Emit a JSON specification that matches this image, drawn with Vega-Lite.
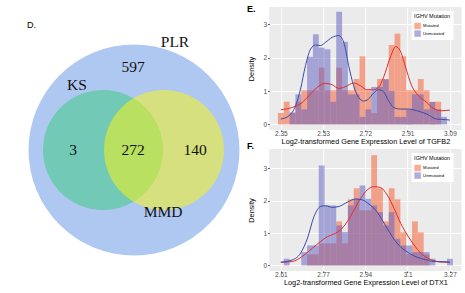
{
  "$schema": "https://vega.github.io/schema/vega-lite/v6.json",
  "background": "white",
  "padding": {"left": 0, "top": 5, "right": 0, "bottom": 0},
  "config": {
    "view": {"stroke": null},
    "font": "Liberation Sans",
    "axis": {"domain": false, "gridColor": "white", "tickColor": "#333333", "labelColor": "#4d4d4d", "labelFont": "Liberation Sans", "titleFont": "Liberation Sans", "titleFontWeight": "normal", "titleColor": "#000000", "labelFontSize": 6.5, "titleFontSize": 7.3, "tickSize": 1.5, "labelPadding": 1},
    "legend": {"orient": "none", "legendX": 142.4, "legendY": 4, "fillColor": "white", "padding": 2.5, "titleFontSize": 5.5, "titleFontWeight": "normal", "titleColor": "#000000", "titlePadding": 3.5, "labelFontSize": 4.3, "labelColor": "#000000", "symbolType": "square", "symbolSize": 42, "symbolStrokeWidth": 0, "symbolOpacity": 0.5, "rowPadding": 0.6, "labelOffset": 2}
  },
  "datasets": {
    "venn": [
      {"set": "PLR", "cx": 0, "cy": 0},
      {"set": "KS", "cx": -31, "cy": 0},
      {"set": "MMD", "cx": 30, "cy": 0}
    ],
    "vennLabels": [
      {"label": "PLR", "lx": 41, "ly": 108},
      {"label": "597", "lx": -1, "ly": 83},
      {"label": "KS", "lx": -57, "ly": 65},
      {"label": "3", "lx": -61, "ly": 0},
      {"label": "272", "lx": -1, "ly": 0},
      {"label": "140", "lx": 61, "ly": 0},
      {"label": "MMD", "lx": 29, "ly": -62}
    ],
    "histE": [
      {"lo": 2.3372, "hi": 2.3628, "group": "Mutated", "density": 0.34},
      {"lo": 2.3628, "hi": 2.3883, "group": "Mutated", "density": 0.68},
      {"lo": 2.3883, "hi": 2.4138, "group": "Mutated", "density": 0.34},
      {"lo": 2.4138, "hi": 2.4393, "group": "Mutated", "density": 0.68},
      {"lo": 2.4393, "hi": 2.4648, "group": "Mutated", "density": 1.02},
      {"lo": 2.4648, "hi": 2.4903, "group": "Mutated", "density": 1.02},
      {"lo": 2.4903, "hi": 2.5159, "group": "Mutated", "density": 1.02},
      {"lo": 2.5159, "hi": 2.5414, "group": "Mutated", "density": 1.7},
      {"lo": 2.5414, "hi": 2.5669, "group": "Mutated", "density": 1.02},
      {"lo": 2.5669, "hi": 2.5924, "group": "Mutated", "density": 1.02},
      {"lo": 2.5924, "hi": 2.6179, "group": "Mutated", "density": 1.7},
      {"lo": 2.6179, "hi": 2.6434, "group": "Mutated", "density": 1.02},
      {"lo": 2.6434, "hi": 2.6690, "group": "Mutated", "density": 1.02},
      {"lo": 2.6690, "hi": 2.6945, "group": "Mutated", "density": 1.36},
      {"lo": 2.6945, "hi": 2.7200, "group": "Mutated", "density": 2.04},
      {"lo": 2.7200, "hi": 2.7455, "group": "Mutated", "density": 1.02},
      {"lo": 2.7455, "hi": 2.7710, "group": "Mutated", "density": 0.34},
      {"lo": 2.7710, "hi": 2.7965, "group": "Mutated", "density": 1.36},
      {"lo": 2.7965, "hi": 2.8221, "group": "Mutated", "density": 1.36},
      {"lo": 2.8221, "hi": 2.8476, "group": "Mutated", "density": 2.38},
      {"lo": 2.8476, "hi": 2.8731, "group": "Mutated", "density": 2.72},
      {"lo": 2.8731, "hi": 2.8986, "group": "Mutated", "density": 2.04},
      {"lo": 2.8986, "hi": 2.9241, "group": "Mutated", "density": 1.02},
      {"lo": 2.9241, "hi": 2.9496, "group": "Mutated", "density": 1.02},
      {"lo": 2.9496, "hi": 2.9752, "group": "Mutated", "density": 1.36},
      {"lo": 2.9752, "hi": 3.0007, "group": "Mutated", "density": 1.02},
      {"lo": 3.0007, "hi": 3.0262, "group": "Mutated", "density": 0.68},
      {"lo": 3.0262, "hi": 3.0517, "group": "Mutated", "density": 0.68},
      {"lo": 2.3883, "hi": 2.4138, "group": "Unmutated", "density": 0.36},
      {"lo": 2.4138, "hi": 2.4393, "group": "Unmutated", "density": 0.9},
      {"lo": 2.4393, "hi": 2.4648, "group": "Unmutated", "density": 0.45},
      {"lo": 2.4648, "hi": 2.4903, "group": "Unmutated", "density": 2.025},
      {"lo": 2.4903, "hi": 2.5159, "group": "Unmutated", "density": 2.7},
      {"lo": 2.5159, "hi": 2.5414, "group": "Unmutated", "density": 2.3},
      {"lo": 2.5414, "hi": 2.5669, "group": "Unmutated", "density": 2.25},
      {"lo": 2.5669, "hi": 2.5924, "group": "Unmutated", "density": 0.675},
      {"lo": 2.5924, "hi": 2.6179, "group": "Unmutated", "density": 3.375},
      {"lo": 2.6179, "hi": 2.6434, "group": "Unmutated", "density": 2.475},
      {"lo": 2.6434, "hi": 2.6690, "group": "Unmutated", "density": 0.9},
      {"lo": 2.6690, "hi": 2.6945, "group": "Unmutated", "density": 0.9},
      {"lo": 2.6945, "hi": 2.7200, "group": "Unmutated", "density": 0.225},
      {"lo": 2.7200, "hi": 2.7455, "group": "Unmutated", "density": 0.45},
      {"lo": 2.7455, "hi": 2.7710, "group": "Unmutated", "density": 1.125},
      {"lo": 2.7710, "hi": 2.7965, "group": "Unmutated", "density": 1.125},
      {"lo": 2.7965, "hi": 2.8221, "group": "Unmutated", "density": 1.35},
      {"lo": 2.8221, "hi": 2.8476, "group": "Unmutated", "density": 1.0},
      {"lo": 2.8476, "hi": 2.8731, "group": "Unmutated", "density": 0.225},
      {"lo": 2.8731, "hi": 2.8986, "group": "Unmutated", "density": 0.225},
      {"lo": 2.8986, "hi": 2.9241, "group": "Unmutated", "density": 0.45},
      {"lo": 2.9241, "hi": 2.9496, "group": "Unmutated", "density": 0.9},
      {"lo": 2.9496, "hi": 2.9752, "group": "Unmutated", "density": 0.9},
      {"lo": 2.9752, "hi": 3.0007, "group": "Unmutated", "density": 0.45},
      {"lo": 3.0007, "hi": 3.0262, "group": "Unmutated", "density": 0.675},
      {"lo": 3.0262, "hi": 3.0517, "group": "Unmutated", "density": 0.45},
      {"lo": 3.0517, "hi": 3.0772, "group": "Unmutated", "density": 0.225}
    ],
    "densE": [
      {"x": 2.350, "group": "Mutated", "density": 0.44},
      {"x": 2.4007, "group": "Mutated", "density": 0.51},
      {"x": 2.444, "group": "Mutated", "density": 0.66},
      {"x": 2.4726, "group": "Mutated", "density": 0.86},
      {"x": 2.509, "group": "Mutated", "density": 1.11},
      {"x": 2.5454, "group": "Mutated", "density": 1.23},
      {"x": 2.574, "group": "Mutated", "density": 1.19},
      {"x": 2.6035, "group": "Mutated", "density": 1.08},
      {"x": 2.6321, "group": "Mutated", "density": 1.13},
      {"x": 2.6685, "group": "Mutated", "density": 1.24},
      {"x": 2.6981, "group": "Mutated", "density": 1.16},
      {"x": 2.7266, "group": "Mutated", "density": 1.04},
      {"x": 2.7562, "group": "Mutated", "density": 1.04},
      {"x": 2.7778, "group": "Mutated", "density": 1.11},
      {"x": 2.7995, "group": "Mutated", "density": 1.41},
      {"x": 2.829, "group": "Mutated", "density": 2.01},
      {"x": 2.8527, "group": "Mutated", "density": 2.33},
      {"x": 2.8724, "group": "Mutated", "density": 2.21},
      {"x": 2.894, "group": "Mutated", "density": 1.76},
      {"x": 2.9226, "group": "Mutated", "density": 1.16},
      {"x": 2.9521, "group": "Mutated", "density": 0.86},
      {"x": 2.9886, "group": "Mutated", "density": 0.66},
      {"x": 3.0171, "group": "Mutated", "density": 0.48},
      {"x": 3.0536, "group": "Mutated", "density": 0.41},
      {"x": 3.090, "group": "Mutated", "density": 0.43},
      {"x": 2.350, "group": "Unmutated", "density": 0.16},
      {"x": 2.3859, "group": "Unmutated", "density": 0.26},
      {"x": 2.4145, "group": "Unmutated", "density": 0.56},
      {"x": 2.4361, "group": "Unmutated", "density": 1.06},
      {"x": 2.4578, "group": "Unmutated", "density": 1.76},
      {"x": 2.4804, "group": "Unmutated", "density": 2.26},
      {"x": 2.5021, "group": "Unmutated", "density": 2.38},
      {"x": 2.5238, "group": "Unmutated", "density": 2.36},
      {"x": 2.5454, "group": "Unmutated", "density": 2.46},
      {"x": 2.575, "group": "Unmutated", "density": 2.61},
      {"x": 2.6035, "group": "Unmutated", "density": 2.66},
      {"x": 2.6252, "group": "Unmutated", "density": 2.46},
      {"x": 2.6469, "group": "Unmutated", "density": 1.76},
      {"x": 2.6685, "group": "Unmutated", "density": 1.16},
      {"x": 2.6902, "group": "Unmutated", "density": 0.81},
      {"x": 2.7119, "group": "Unmutated", "density": 0.70},
      {"x": 2.7335, "group": "Unmutated", "density": 0.76},
      {"x": 2.7562, "group": "Unmutated", "density": 0.94},
      {"x": 2.7778, "group": "Unmutated", "density": 1.04},
      {"x": 2.7995, "group": "Unmutated", "density": 0.98},
      {"x": 2.8212, "group": "Unmutated", "density": 0.71},
      {"x": 2.8428, "group": "Unmutated", "density": 0.51},
      {"x": 2.8724, "group": "Unmutated", "density": 0.46},
      {"x": 2.9088, "group": "Unmutated", "density": 0.46},
      {"x": 2.9452, "group": "Unmutated", "density": 0.41},
      {"x": 2.9886, "group": "Unmutated", "density": 0.31},
      {"x": 3.0319, "group": "Unmutated", "density": 0.16},
      {"x": 3.0755, "group": "Unmutated", "density": 0.14},
      {"x": 3.090, "group": "Unmutated", "density": 0.13}
    ],
    "histF": [
      {"lo": 2.7124, "hi": 2.7352, "group": "Mutated", "density": 0.34},
      {"lo": 2.7352, "hi": 2.7579, "group": "Mutated", "density": 0.34},
      {"lo": 2.7579, "hi": 2.7807, "group": "Mutated", "density": 0.68},
      {"lo": 2.7807, "hi": 2.8035, "group": "Mutated", "density": 0.68},
      {"lo": 2.8035, "hi": 2.8262, "group": "Mutated", "density": 0.68},
      {"lo": 2.8262, "hi": 2.8490, "group": "Mutated", "density": 1.36},
      {"lo": 2.8490, "hi": 2.8717, "group": "Mutated", "density": 0.68},
      {"lo": 2.8717, "hi": 2.8945, "group": "Mutated", "density": 2.04},
      {"lo": 2.8945, "hi": 2.9172, "group": "Mutated", "density": 2.38},
      {"lo": 2.9172, "hi": 2.9400, "group": "Mutated", "density": 1.7},
      {"lo": 2.9400, "hi": 2.9628, "group": "Mutated", "density": 1.7},
      {"lo": 2.9628, "hi": 2.9855, "group": "Mutated", "density": 3.4},
      {"lo": 2.9855, "hi": 3.0083, "group": "Mutated", "density": 2.38},
      {"lo": 3.0083, "hi": 3.0310, "group": "Mutated", "density": 1.36},
      {"lo": 3.0310, "hi": 3.0538, "group": "Mutated", "density": 2.38},
      {"lo": 3.0538, "hi": 3.0766, "group": "Mutated", "density": 2.04},
      {"lo": 3.0766, "hi": 3.0993, "group": "Mutated", "density": 1.02},
      {"lo": 3.0993, "hi": 3.1221, "group": "Mutated", "density": 0.34},
      {"lo": 3.1221, "hi": 3.1448, "group": "Mutated", "density": 1.36},
      {"lo": 3.1448, "hi": 3.1676, "group": "Mutated", "density": 1.02},
      {"lo": 3.1676, "hi": 3.1903, "group": "Mutated", "density": 0.34},
      {"lo": 2.6214, "hi": 2.6442, "group": "Unmutated", "density": 0.206},
      {"lo": 2.6897, "hi": 2.7124, "group": "Unmutated", "density": 0.411},
      {"lo": 2.7124, "hi": 2.7352, "group": "Unmutated", "density": 0.617},
      {"lo": 2.7352, "hi": 2.7579, "group": "Unmutated", "density": 0.617},
      {"lo": 2.7579, "hi": 2.7807, "group": "Unmutated", "density": 3.083},
      {"lo": 2.7807, "hi": 2.8035, "group": "Unmutated", "density": 1.85},
      {"lo": 2.8035, "hi": 2.8262, "group": "Unmutated", "density": 1.85},
      {"lo": 2.8262, "hi": 2.8490, "group": "Unmutated", "density": 1.233},
      {"lo": 2.8490, "hi": 2.8717, "group": "Unmutated", "density": 1.028},
      {"lo": 2.8717, "hi": 2.8945, "group": "Unmutated", "density": 1.85},
      {"lo": 2.8945, "hi": 2.9172, "group": "Unmutated", "density": 2.055},
      {"lo": 2.9172, "hi": 2.9400, "group": "Unmutated", "density": 2.466},
      {"lo": 2.9400, "hi": 2.9628, "group": "Unmutated", "density": 2.055},
      {"lo": 2.9628, "hi": 2.9855, "group": "Unmutated", "density": 1.85},
      {"lo": 2.9855, "hi": 3.0083, "group": "Unmutated", "density": 1.644},
      {"lo": 3.0083, "hi": 3.0310, "group": "Unmutated", "density": 1.233},
      {"lo": 3.0310, "hi": 3.0538, "group": "Unmutated", "density": 1.644},
      {"lo": 3.0538, "hi": 3.0766, "group": "Unmutated", "density": 0.822},
      {"lo": 3.0766, "hi": 3.0993, "group": "Unmutated", "density": 0.617},
      {"lo": 3.0993, "hi": 3.1221, "group": "Unmutated", "density": 0.617},
      {"lo": 3.1221, "hi": 3.1448, "group": "Unmutated", "density": 0.411},
      {"lo": 3.1448, "hi": 3.1676, "group": "Unmutated", "density": 0.411},
      {"lo": 3.1676, "hi": 3.1903, "group": "Unmutated", "density": 0.411},
      {"lo": 3.1903, "hi": 3.2131, "group": "Unmutated", "density": 0.206},
      {"lo": 3.2586, "hi": 3.2814, "group": "Unmutated", "density": 0.206}
    ],
    "densF": [
      {"x": 2.610, "group": "Mutated", "density": 0.10},
      {"x": 2.6544, "group": "Mutated", "density": 0.12},
      {"x": 2.694, "group": "Mutated", "density": 0.28},
      {"x": 2.7326, "group": "Mutated", "density": 0.53},
      {"x": 2.7652, "group": "Mutated", "density": 0.74},
      {"x": 2.7919, "group": "Mutated", "density": 0.89},
      {"x": 2.8176, "group": "Mutated", "density": 0.97},
      {"x": 2.8433, "group": "Mutated", "density": 1.10},
      {"x": 2.869, "group": "Mutated", "density": 1.35},
      {"x": 2.8957, "group": "Mutated", "density": 1.71},
      {"x": 2.9215, "group": "Mutated", "density": 2.07},
      {"x": 2.9472, "group": "Mutated", "density": 2.33},
      {"x": 2.9739, "group": "Mutated", "density": 2.43},
      {"x": 2.9996, "group": "Mutated", "density": 2.40},
      {"x": 3.0253, "group": "Mutated", "density": 2.17},
      {"x": 3.052, "group": "Mutated", "density": 1.76},
      {"x": 3.0777, "group": "Mutated", "density": 1.30},
      {"x": 3.1034, "group": "Mutated", "density": 0.94},
      {"x": 3.1292, "group": "Mutated", "density": 0.64},
      {"x": 3.1559, "group": "Mutated", "density": 0.38},
      {"x": 3.1816, "group": "Mutated", "density": 0.23},
      {"x": 3.2073, "group": "Mutated", "density": 0.15},
      {"x": 3.2399, "group": "Mutated", "density": 0.10},
      {"x": 3.270, "group": "Mutated", "density": 0.10},
      {"x": 2.610, "group": "Unmutated", "density": 0.10},
      {"x": 2.6544, "group": "Unmutated", "density": 0.17},
      {"x": 2.687, "group": "Unmutated", "density": 0.38},
      {"x": 2.7138, "group": "Unmutated", "density": 0.84},
      {"x": 2.7395, "group": "Unmutated", "density": 1.51},
      {"x": 2.7652, "group": "Unmutated", "density": 1.82},
      {"x": 2.785, "group": "Unmutated", "density": 1.84},
      {"x": 2.8107, "group": "Unmutated", "density": 1.79},
      {"x": 2.8374, "group": "Unmutated", "density": 1.82},
      {"x": 2.869, "group": "Unmutated", "density": 1.95},
      {"x": 2.9017, "group": "Unmutated", "density": 2.05},
      {"x": 2.9284, "group": "Unmutated", "density": 2.02},
      {"x": 2.9541, "group": "Unmutated", "density": 1.89},
      {"x": 2.9798, "group": "Unmutated", "density": 1.71},
      {"x": 3.0055, "group": "Unmutated", "density": 1.40},
      {"x": 3.0322, "group": "Unmutated", "density": 1.05},
      {"x": 3.058, "group": "Unmutated", "density": 0.74},
      {"x": 3.0837, "group": "Unmutated", "density": 0.53},
      {"x": 3.1104, "group": "Unmutated", "density": 0.38},
      {"x": 3.143, "group": "Unmutated", "density": 0.25},
      {"x": 3.1747, "group": "Unmutated", "density": 0.18},
      {"x": 3.2073, "group": "Unmutated", "density": 0.12},
      {"x": 3.2399, "group": "Unmutated", "density": 0.12},
      {"x": 3.270, "group": "Unmutated", "density": 0.10}
    ]
  },
  "spacing": 6.2,
  "hconcat": [
    {
      "width": 240,
      "height": 288,
      "title": {"text": "D.", "anchor": "start", "frame": "group", "dx": 27, "offset": -23, "fontSize": 9, "font": "Liberation Sans", "fontWeight": "normal", "color": "#000000"},
      "layer": [
        {
          "data": {"name": "venn"},
          "transform": [{"filter": "datum.set == 'PLR'"}],
          "mark": {"type": "point", "shape": "circle", "filled": true, "size": 44521, "color": "#afc8f2", "opacity": 1},
          "encoding": {
            "x": {"field": "cx", "type": "quantitative", "scale": {"domain": [-134, 106], "nice": false, "zero": false}, "axis": null},
            "y": {"field": "cy", "type": "quantitative", "scale": {"domain": [-145, 143], "nice": false, "zero": false}, "axis": null}
          }
        },
        {
          "data": {"name": "venn"},
          "transform": [{"filter": "datum.set == 'KS'"}],
          "mark": {"type": "point", "shape": "circle", "filled": true, "size": 14400, "color": "#72c9b6", "opacity": 1},
          "encoding": {
            "x": {"field": "cx", "type": "quantitative"},
            "y": {"field": "cy", "type": "quantitative"}
          }
        },
        {
          "data": {"name": "venn"},
          "transform": [{"filter": "datum.set == 'MMD'"}],
          "mark": {"type": "point", "shape": "circle", "filled": true, "size": 14400, "color": "#fff80a", "opacity": 0.5},
          "encoding": {
            "x": {"field": "cx", "type": "quantitative"},
            "y": {"field": "cy", "type": "quantitative"}
          }
        },
        {
          "data": {"name": "vennLabels"},
          "mark": {"type": "text", "font": "Liberation Serif", "fontSize": 15.5, "color": "#111111", "align": "center", "baseline": "middle"},
          "encoding": {
            "x": {"field": "lx", "type": "quantitative"},
            "y": {"field": "ly", "type": "quantitative"},
            "text": {"field": "label", "type": "nominal"}
          }
        }
      ]
    },
    {
      "spacing": -3,
      "resolve": {"scale": {"x": "independent", "y": "independent", "color": "independent", "stroke": "independent"}, "legend": {"color": "independent"}},
      "vconcat": [
        {
          "width": 192.4,
          "height": 123,
          "view": {"fill": "#ebebeb", "stroke": null},
          "title": {"text": "E.", "anchor": "start", "frame": "bounds", "offset": -7, "fontSize": 9, "font": "Liberation Sans", "fontWeight": "bold", "color": "#000000"},
          "layer": [
            {
              "data": {"name": "histE"},
              "mark": {"type": "rect", "opacity": 0.5},
              "encoding": {
                "x": {"field": "lo", "type": "quantitative", "scale": {"domain": [2.299, 3.1411], "nice": false, "zero": false},
                  "axis": {"title": "Log2-transformed Gene Expression Level of TGFB2", "values": [2.35, 2.4425, 2.535, 2.6275, 2.72, 2.8125, 2.905, 2.9975, 3.09],
                    "labelExpr": "datum.value == 2.35 ? '2.35' : datum.value == 2.535 ? '2.53' : datum.value == 2.72 ? '2.72' : datum.value == 2.905 ? '2.91' : datum.value == 3.09 ? '3.09' : ''",
                    "gridWidth": {"condition": {"test": "indexof([2.35,2.535,2.72,2.905,3.09], datum.value) >= 0", "value": 1}, "value": 0.5},
                    "tickOpacity": {"condition": {"test": "indexof([2.35,2.535,2.72,2.905,3.09], datum.value) >= 0", "value": 1}, "value": 0},
                    "labelPadding": -1, "titleY": 13.5, "titleBaseline": "alphabetic"}},
                "x2": {"field": "hi"},
                "y": {"field": "density", "type": "quantitative", "scale": {"domain": [-0.1675, 3.5175], "nice": false, "zero": false},
                  "axis": {"title": "Density", "values": [0, 0.5, 1, 1.5, 2, 2.5, 3, 3.5],
                    "labelExpr": "datum.value % 1 == 0 ? datum.label : ''",
                    "gridWidth": {"condition": {"test": "datum.value % 1 == 0", "value": 1}, "value": 0.5},
                    "tickOpacity": {"condition": {"test": "datum.value % 1 == 0", "value": 1}, "value": 0},
                    "titlePadding": 8}},
                "y2": {"datum": 0},
                "color": {"field": "group", "type": "nominal", "scale": {"domain": ["Mutated", "Unmutated"], "range": ["#f8572a", "#5b5bc1"]},
                  "legend": {"title": "IGHV Mutation"}}
              }
            },
            {
              "data": {"name": "densE"},
              "mark": {"type": "line", "interpolate": "monotone", "strokeWidth": 1},
              "encoding": {
                "x": {"field": "x", "type": "quantitative"},
                "y": {"field": "density", "type": "quantitative"},
                "stroke": {"field": "group", "type": "nominal", "scale": {"domain": ["Mutated", "Unmutated"], "range": ["#e52b2b", "#3a4aa8"]}, "legend": null}
              }
            }
          ]
        },
        {
          "width": 192.4,
          "height": 122,
          "view": {"fill": "#ebebeb", "stroke": null},
          "title": {"text": "F.", "anchor": "start", "frame": "bounds", "offset": -2, "fontSize": 9, "font": "Liberation Sans", "fontWeight": "bold", "color": "#000000"},
          "layer": [
            {
              "data": {"name": "histF"},
              "mark": {"type": "rect", "opacity": 0.5},
              "encoding": {
                "x": {"field": "lo", "type": "quantitative", "scale": {"domain": [2.5645, 3.3155], "nice": false, "zero": false},
                  "axis": {"title": "Log2-transformed Gene Expression Level of DTX1", "values": [2.61, 2.6925, 2.775, 2.8575, 2.94, 3.0225, 3.105, 3.1875, 3.27],
                    "labelExpr": "datum.value == 2.61 ? '2.61' : datum.value == 2.775 ? '2.77' : datum.value == 2.94 ? '2.94' : datum.value == 3.105 ? '3.1' : datum.value == 3.27 ? '3.27' : ''",
                    "gridWidth": {"condition": {"test": "indexof([2.61,2.775,2.94,3.105,3.27], datum.value) >= 0", "value": 1}, "value": 0.5},
                    "tickOpacity": {"condition": {"test": "indexof([2.61,2.775,2.94,3.105,3.27], datum.value) >= 0", "value": 1}, "value": 0},
                    "labelPadding": -1, "titleY": 13, "titleBaseline": "alphabetic"}},
                "x2": {"field": "hi"},
                "y": {"field": "density", "type": "quantitative", "scale": {"domain": [-0.171, 3.591], "nice": false, "zero": false},
                  "axis": {"title": "Density", "values": [0, 0.5, 1, 1.5, 2, 2.5, 3, 3.5],
                    "labelExpr": "datum.value % 1 == 0 ? datum.label : ''",
                    "gridWidth": {"condition": {"test": "datum.value % 1 == 0", "value": 1}, "value": 0.5},
                    "tickOpacity": {"condition": {"test": "datum.value % 1 == 0", "value": 1}, "value": 0},
                    "titlePadding": 8}},
                "y2": {"datum": 0},
                "color": {"field": "group", "type": "nominal", "scale": {"domain": ["Mutated", "Unmutated"], "range": ["#f8572a", "#5b5bc1"]},
                  "legend": {"title": "IGHV Mutation"}}
              }
            },
            {
              "data": {"name": "densF"},
              "mark": {"type": "line", "interpolate": "monotone", "strokeWidth": 1},
              "encoding": {
                "x": {"field": "x", "type": "quantitative"},
                "y": {"field": "density", "type": "quantitative"},
                "stroke": {"field": "group", "type": "nominal", "scale": {"domain": ["Mutated", "Unmutated"], "range": ["#e52b2b", "#3a4aa8"]}, "legend": null}
              }
            }
          ]
        }
      ]
    }
  ]
}
